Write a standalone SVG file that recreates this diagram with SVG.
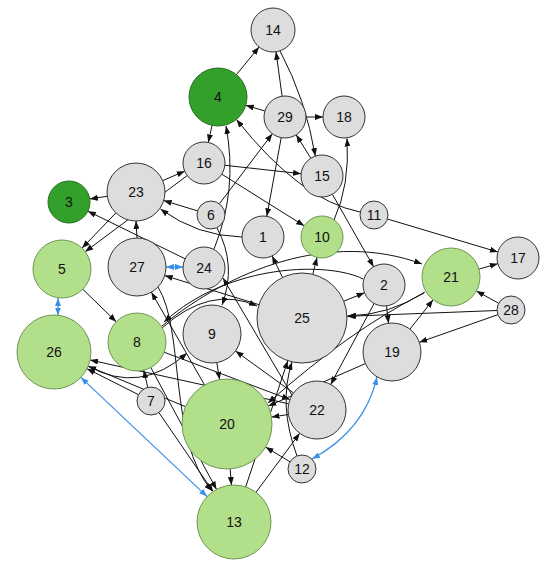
<svg xmlns="http://www.w3.org/2000/svg" width="551" height="569" viewBox="0 0 551 569">
<defs>
<marker id="arr" viewBox="0 0 8 6" refX="8" refY="3" markerWidth="8" markerHeight="6" markerUnits="userSpaceOnUse" orient="auto"><path d="M0,0 L8,3 L0,6 z" fill="#111"/></marker>
<marker id="barr" viewBox="0 0 8 6" refX="8" refY="3" markerWidth="8" markerHeight="6" markerUnits="userSpaceOnUse" orient="auto-start-reverse"><path d="M0,0 L8,3 L0,6 z" fill="#3a8ee6"/></marker>
<style>
.e{fill:none;stroke:#111;stroke-width:1;marker-end:url(#arr)}
.b{fill:none;stroke:#3a8ee6;stroke-width:1.2;marker-start:url(#barr);marker-end:url(#barr)}
.g{fill:#dddddd;stroke:#333;stroke-width:1}
.l{fill:#b2df8a;stroke:#6f9656;stroke-width:1}
.d{fill:#33a02c;stroke:#2a6e24;stroke-width:1}
text{font-family:"Liberation Sans",Arial,sans-serif;font-size:14px;fill:#111;text-anchor:middle;dominant-baseline:central}
</style>
</defs>
<rect width="551" height="569" fill="#fff"/>
<g id="edges">
<path class="e" d="M236.4,74.6 L259.1,47"/>
<path class="e" d="M282.1,96.2 L276,51.8"/>
<path class="e" d="M280,50.9 Q306,100 315.3,156.1"/>
<path class="e" d="M264.9,111 L245.8,105.3"/>
<path class="e" d="M306,117 L323,117"/>
<path class="e" d="M310.8,158.2 L296.2,134.8"/>
<path class="e" d="M212,125.4 L208.3,142.5"/>
<path class="e" d="M162.7,180.6 L184.7,171.2"/>
<path class="e" d="M224.9,165.3 L301.1,173.7"/>
<path class="e" d="M221.8,174.2 L304.2,225.8"/>
<path class="e" d="M187.2,175.6 L85.2,251.7"/>
<path class="e" d="M115.9,212.9 L82.1,248.1"/>
<path class="e" d="M107.3,196.3 L89.8,198.9"/>
<path class="e" d="M185.1,258.8 L87.9,211.2"/>
<path class="e" d="M197.6,210.9 L163.7,200.5"/>
<path class="e" d="M242,237 Q197,236 160.5,209"/>
<path class="e" d="M137,238 L136,221"/>
<path class="e" d="M219.4,203.8 L272.3,133.8"/>
<path class="e" d="M360,212 Q300,200 236.5,119.5"/>
<path class="e" d="M332.4,194.3 L373.6,266.8"/>
<path class="e" d="M334,220 Q350,185 347,138.5"/>
<path class="e" d="M281.2,137.7 L266.8,216.3"/>
<path class="e" d="M387.4,219 L497.9,252"/>
<path class="e" d="M478.9,269.1 L497.8,263.7"/>
<path class="e" d="M498.7,303.3 L476.4,291"/>
<path class="e" d="M497,310.5 L347,316.3"/>
<path class="e" d="M497.8,314.7 L419.3,342.3"/>
<path class="e" d="M409.9,329.2 L433.1,299.8"/>
<path class="e" d="M386.5,305.9 L388.5,323.2"/>
<path class="e" d="M343.8,301.2 L364.5,292.8"/>
<path class="e" d="M312.8,274.3 L317,257.4"/>
<path class="e" d="M282.5,277.5 L272.1,255.9"/>
<path class="e" d="M162,326 C230,270 330,230 422,264"/>
<path class="e" d="M363,279 C330,262 230,262 164,322"/>
<path class="e" d="M162,328 Q210,285 257,306"/>
<path class="e" d="M425,292 Q390,315 348,316"/>
<path class="e" d="M424,293 Q350,330 268,403"/>
<path class="e" d="M365.4,363.6 L268.3,406"/>
<path class="e" d="M374.1,303.5 L330.7,384.4"/>
<path class="e" d="M288.3,414.5 L271.5,417.1"/>
<path class="e" d="M164.1,352.2 L289.9,399.6"/>
<path class="e" d="M293.5,393 L235.5,351"/>
<path class="e" d="M88,366 Q140,395 187,353"/>
<path class="e" d="M204.6,385 L151.4,292.2"/>
<path class="e" d="M158,287 C185,330 168,440 212,491"/>
<path class="e" d="M185.5,406.7 L88.2,366.2"/>
<path class="e" d="M138.5,394.7 L87,368.7"/>
<path class="e" d="M288.7,403.8 L90.1,360"/>
<path class="e" d="M147.8,387.4 L143.7,370.2"/>
<path class="e" d="M158.9,412.6 L213.1,491.5"/>
<path class="e" d="M150.8,367.5 L216.5,489.4"/>
<path class="e" d="M230.2,468.9 L231.4,485.1"/>
<path class="e" d="M245.7,486.9 L287.8,360.7"/>
<path class="e" d="M256,492.3 L299.7,433.3"/>
<path class="e" d="M297,456 Q278,405 292,362"/>
<path class="e" d="M290,461.8 L265.6,447.1"/>
<path class="e" d="M217,228 Q237,265 222,305"/>
<path class="e" d="M214,249 Q238,190 226,126"/>
<path class="e" d="M216.8,362.6 L219.6,379.6"/>
<path class="e" d="M259,304.7 L164.7,275.6"/>
<path class="e" d="M292,395 L223,278"/>
<path class="e" d="M82.8,289.2 L116.2,321.8"/>
<path class="b" d="M166,267 L183,267"/>
<path class="b" d="M58,298 L58,315.5"/>
<path class="b" d="M80.9,377.4 L207.1,496.6"/>
<path class="b" d="M377,377 Q365,430 312,459"/>
</g>
<g id="node-14"><circle class="g" cx="273" cy="30" r="22"/><text x="273" y="30">14</text></g>
<g id="node-4"><circle class="d" cx="218" cy="97" r="29"/><text x="218" y="97">4</text></g>
<g id="node-29"><circle class="g" cx="285" cy="117" r="21"/><text x="285" y="117">29</text></g>
<g id="node-18"><circle class="g" cx="344" cy="117" r="21"/><text x="344" y="117">18</text></g>
<g id="node-16"><circle class="g" cx="204" cy="163" r="21"/><text x="204" y="163">16</text></g>
<g id="node-15"><circle class="g" cx="322" cy="176" r="21"/><text x="322" y="176">15</text></g>
<g id="node-23"><circle class="g" cx="136" cy="192" r="29"/><text x="136" y="192">23</text></g>
<g id="node-3"><circle class="d" cx="69" cy="202" r="21"/><text x="69" y="202">3</text></g>
<g id="node-6"><circle class="g" cx="211" cy="215" r="14"/><text x="211" y="215">6</text></g>
<g id="node-1"><circle class="g" cx="263" cy="237" r="21"/><text x="263" y="237">1</text></g>
<g id="node-10"><circle class="l" cx="322" cy="237" r="21"/><text x="322" y="237">10</text></g>
<g id="node-11"><circle class="g" cx="374" cy="215" r="14"/><text x="374" y="215">11</text></g>
<g id="node-17"><circle class="g" cx="518" cy="258" r="21"/><text x="518" y="258">17</text></g>
<g id="node-21"><circle class="l" cx="451" cy="277" r="29"/><text x="451" y="277">21</text></g>
<g id="node-28"><circle class="g" cx="511" cy="310" r="14"/><text x="511" y="310">28</text></g>
<g id="node-2"><circle class="g" cx="384" cy="285" r="21"/><text x="384" y="285">2</text></g>
<g id="node-19"><circle class="g" cx="392" cy="352" r="29"/><text x="392" y="352">19</text></g>
<g id="node-25"><circle class="g" cx="302" cy="318" r="45"/><text x="302" y="318">25</text></g>
<g id="node-5"><circle class="l" cx="62" cy="269" r="29"/><text x="62" y="269">5</text></g>
<g id="node-27"><circle class="g" cx="137" cy="267" r="29"/><text x="137" y="267">27</text></g>
<g id="node-24"><circle class="g" cx="204" cy="268" r="21"/><text x="204" y="268">24</text></g>
<g id="node-26"><circle class="l" cx="54" cy="352" r="37"/><text x="54" y="352">26</text></g>
<g id="node-8"><circle class="l" cx="137" cy="342" r="29"/><text x="137" y="342">8</text></g>
<g id="node-9"><circle class="g" cx="212" cy="334" r="29"/><text x="212" y="334">9</text></g>
<g id="node-7"><circle class="g" cx="151" cy="401" r="14"/><text x="151" y="401">7</text></g>
<g id="node-20"><circle class="l" cx="227" cy="424" r="45"/><text x="227" y="424">20</text></g>
<g id="node-22"><circle class="g" cx="317" cy="410" r="29"/><text x="317" y="410">22</text></g>
<g id="node-12"><circle class="g" cx="302" cy="469" r="14"/><text x="302" y="469">12</text></g>
<g id="node-13"><circle class="l" cx="234" cy="522" r="37"/><text x="234" y="522">13</text></g>
</svg>
